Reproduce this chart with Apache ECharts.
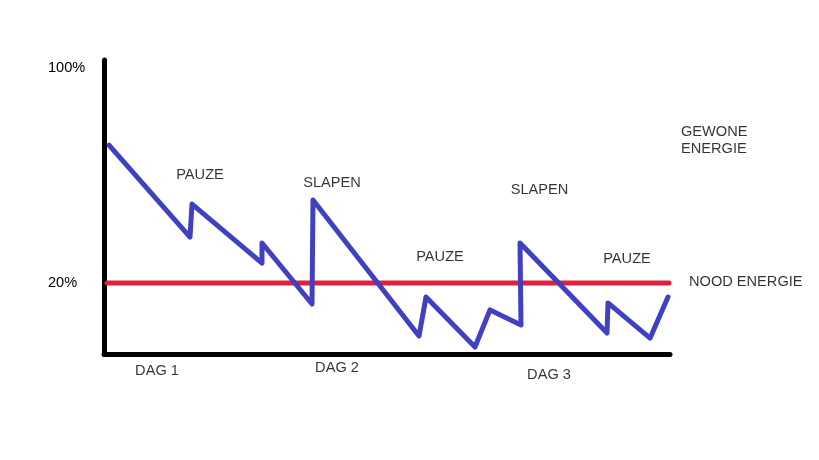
<!DOCTYPE html>
<html>
<head>
<meta charset="utf-8">
<script src="https://cdn.jsdelivr.net/npm/echarts@6/dist/echarts.min.js"></script>
<style>
  html, body { margin: 0; padding: 0; background: #ffffff; }
  #chart { width: 819px; height: 460px; }
</style>
</head>
<body>
<div id="chart"></div>
<script>
// Energy curve over time (x: time units, y: energy in %)
const energyX = [5, 86, 88, 158, 158, 208, 209, 315, 322, 371, 386, 417, 416, 503, 504, 546, 564];
const energyY = [71.3, 37.1, 49.4, 27.4, 34.9, 12.2, 50.9, 0.3, 14.8, -3.8, 10.0, 4.4, 34.9, 1.4, 12.6, -0.5, 14.8];

// Emergency-energy threshold line
const noodX = [3, 565];
const noodLevel = 20;

// Y tick labels
const yTickValues = [20, 100];

// Annotations
const annText = ['PAUZE', 'SLAPEN', 'PAUZE', 'SLAPEN', 'PAUZE', 'NOOD ENERGIE', 'GEWONE\nENERGIE', 'DAG 1', 'DAG 2', 'DAG 3'];
const annX = [96, 228, 336, 435.5, 523, 585, 577, 53, 233, 445];
const annY = [60.2, 57.2, 29.7, 54.6, 28.9, 20.4, 73.2, -12.7, -11.6, -14.2];
const annAlign = ['center', 'center', 'center', 'center', 'center', 'left', 'left', 'center', 'center', 'center'];

const FONT = '"Liberation Sans", Arial, sans-serif';

const chart = echarts.init(document.getElementById('chart'), null, { renderer: 'canvas' });

const energyData = energyX.map((x, i) => [x, energyY[i]]);
const noodData = noodX.map(x => [x, noodLevel]);
const annData = annText.map((t, i) => ({
  value: [annX[i], annY[i]],
  label: { formatter: t, align: annAlign[i] }
}));

chart.setOption({
  animation: false,
  backgroundColor: '#ffffff',
  grid: { left: 104, right: 149, top: 60, bottom: 106, containLabel: false },
  xAxis: {
    type: 'value',
    min: 0,
    max: 566,
    axisLine: { show: true, onZero: false, lineStyle: { color: '#000', width: 5 } },
    axisTick: { show: false },
    axisLabel: { show: false },
    splitLine: { show: false }
  },
  yAxis: {
    type: 'value',
    min: -6.4,
    max: 103,
    axisLine: { show: true, onZero: false, lineStyle: { color: '#000', width: 5 } },
    axisTick: { show: false },
    splitLine: { show: false },
    axisLabel: {
      show: true,
      customValues: yTickValues,
      formatter: v => Math.round(v) + '%',
      align: 'left',
      margin: 56,
      color: '#000',
      fontSize: 14.6,
      fontFamily: FONT
    }
  },
  series: [
    {
      type: 'line',
      data: noodData,
      showSymbol: false,
      lineStyle: { color: '#E0203F', width: 5, cap: 'round' },
      silent: true,
      z: 2
    },
    {
      type: 'line',
      data: energyData,
      showSymbol: false,
      lineStyle: { color: '#4040C0', width: 5, cap: 'round', join: 'round' },
      silent: true,
      z: 3
    },
    {
      type: 'scatter',
      data: annData,
      symbolSize: 1,
      itemStyle: { color: 'rgba(0,0,0,0)' },
      clip: false,
      silent: true,
      label: {
        show: true,
        position: 'inside',
        verticalAlign: 'middle',
        color: '#000',
        fontSize: 14.6,
        fontFamily: FONT,
        lineHeight: 17
      },
      z: 4
    }
  ]
});
</script>
</body>
</html>
